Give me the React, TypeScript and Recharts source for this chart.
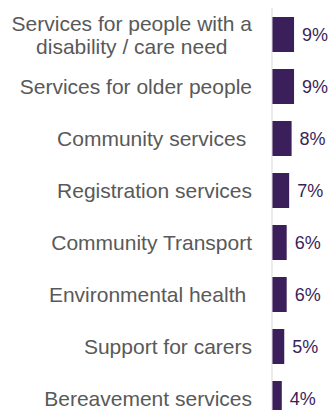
import { BarChart, Bar, XAxis, YAxis, LabelList } from "recharts";

const categories = [
  "Services for people with a|disability / care need",
  "Services for older people",
  "Community services ",
  "Registration services",
  "Community Transport",
  "Environmental health ",
  "Support for carers",
  "Bereavement services",
];
const values = [9, 9, 8, 7, 6, 6, 5, 4];

const data = categories.map((name, i) => ({ name, value: values[i] }));

const barColor = "#3b1f5a";
const labelColor = "#595959";
const font = "'Liberation Sans', Arial, sans-serif";

const CategoryTick = ({ x, y, payload }: any) => {
  const lines = String(payload.value).split("|");
  if (lines.length > 1) {
    return (
      <text
        x={x}
        y={y}
        fill={labelColor}
        fontSize={21}
        fontFamily={font}
        dominantBaseline="central"
      >
        <tspan x={x} y={y - 11.5} textAnchor="end">
          {lines[0]}
        </tspan>
        <tspan x={x - 24.5} y={y + 11.5} textAnchor="end">
          {lines[1]}
        </tspan>
      </text>
    );
  }
  return (
    <text
      x={x}
      y={y}
      fill={labelColor}
      fontSize={21}
      fontFamily={font}
      textAnchor="end"
      dominantBaseline="central"
      xmlSpace="preserve"
    >
      {lines[0]}
    </text>
  );
};

export default function App() {
  return (
    <div style={{ position: "absolute", left: 0, top: 0, width: 330, height: 410, overflow: "hidden", background: "#fff" }}>
      <BarChart
        width={330}
        height={424}
        data={data}
        layout="vertical"
        margin={{ top: 8, right: 33.5, left: 0, bottom: 0 }}
        barSize={35}
      >
        <XAxis type="number" domain={[0, 10]} hide />
        <YAxis
          type="category"
          dataKey="name"
          width={272}
          axisLine={{ stroke: "#d9d9d9" }}
          tickLine={false}
          tickSize={0}
          tickMargin={20}
          interval={0}
          tick={<CategoryTick />}
        />
        <Bar dataKey="value" fill={barColor} isAnimationActive={false}>
          <LabelList
            dataKey="value"
            position="right"
            offset={8}
            formatter={(v: any) => `${v}%`}
            fill={barColor}
            fontSize={18}
            fontFamily={font}
          />
        </Bar>
      </BarChart>
    </div>
  );
}
